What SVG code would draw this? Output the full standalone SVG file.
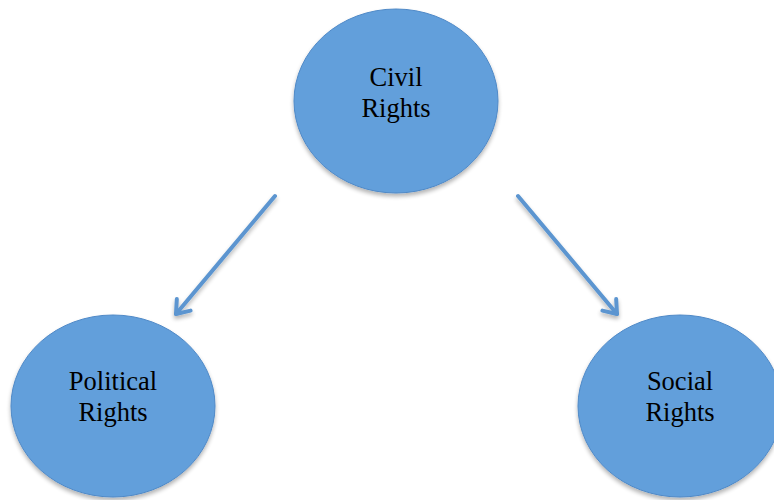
<svg xmlns="http://www.w3.org/2000/svg" width="774" height="500" viewBox="0 0 774 500">
<defs>
<filter id="sh" x="-20%" y="-20%" width="140%" height="140%">
<feGaussianBlur in="SourceAlpha" stdDeviation="2"/>
<feOffset dx="0" dy="3" result="b"/>
<feComponentTransfer><feFuncA type="linear" slope="0.3"/></feComponentTransfer>
<feMerge><feMergeNode/><feMergeNode in="SourceGraphic"/></feMerge>
</filter>
<marker id="arr" markerUnits="userSpaceOnUse" markerWidth="30" markerHeight="30" refX="15" refY="15" orient="auto" viewBox="0 0 30 30">
<polyline points="3,6 15,15 3,24" fill="none" stroke="#5b95d0" stroke-width="4" stroke-linecap="round" stroke-linejoin="round"/>
</marker>
</defs>
<style>
.node ellipse{fill:#629fdb;stroke:#4f89c7;stroke-width:1;}
.node text{font-family:"Liberation Serif","Times New Roman",serif;font-size:26.5px;fill:#000;text-anchor:middle;}
.conn line{stroke:#5b95d0;stroke-width:4;stroke-linecap:round;}
</style>
<rect width="774" height="500" fill="#fff"/>
<g class="conn" filter="url(#sh)">
<line x1="275" y1="196" x2="176" y2="314" marker-end="url(#arr)"/>
<line x1="518" y1="196" x2="617" y2="314" marker-end="url(#arr)"/>
</g>
<g id="civil" class="node">
<ellipse cx="396" cy="101" rx="102" ry="92" filter="url(#sh)"/>
<text x="396" y="86">Civil</text>
<text x="396" y="117">Rights</text>
</g>
<g id="political" class="node">
<ellipse cx="113" cy="406" rx="102" ry="91" filter="url(#sh)"/>
<text x="113" y="390">Political</text>
<text x="113" y="421">Rights</text>
</g>
<g id="social" class="node">
<ellipse cx="680" cy="406" rx="102" ry="91" filter="url(#sh)"/>
<text x="680" y="390">Social</text>
<text x="680" y="421">Rights</text>
</g>
</svg>
